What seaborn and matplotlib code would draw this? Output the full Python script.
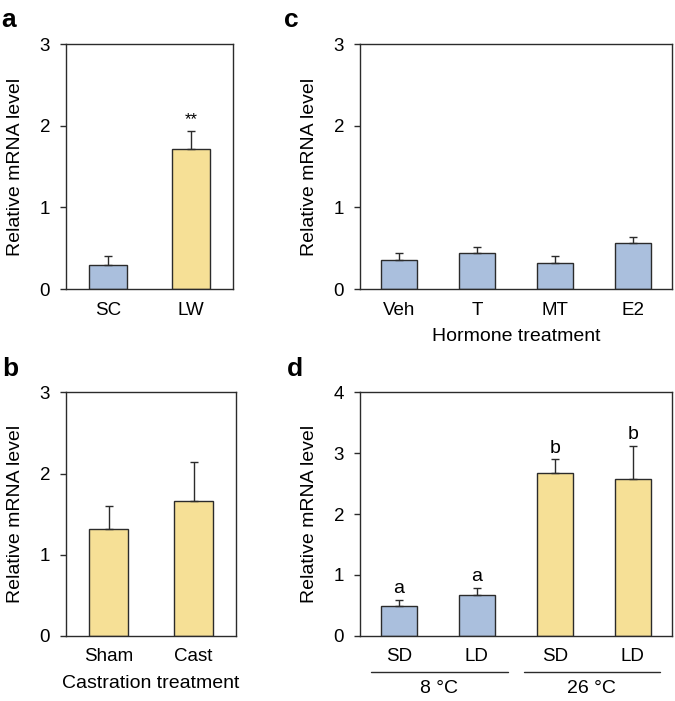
import pandas as pd
import matplotlib
matplotlib.use("Agg")
import matplotlib.pyplot as plt
import matplotlib.transforms as mtransforms
import seaborn as sns

# panel a
a_groups = ["SC", "LW"]
a_means = [0.30, 1.72]
a_err = [0.10, 0.22]

# panel b
b_groups = ["Sham", "Cast"]
b_means = [1.32, 1.66]
b_err = [0.28, 0.48]

# panel c
c_groups = ["Veh", "T", "MT", "E2"]
c_means = [0.35, 0.44, 0.32, 0.56]
c_err = [0.09, 0.07, 0.09, 0.08]

# panel d
d_groups = ["SD 8", "LD 8", "SD 26", "LD 26"]
d_ticklabels = ["SD", "LD", "SD", "LD"]
d_means = [0.49, 0.67, 2.67, 2.58]
d_err = [0.10, 0.12, 0.23, 0.54]
d_letters = ["a", "a", "b", "b"]
d_temps = ["8 °C", "26 °C"]

BLUE = "#aabfdd"
YELLOW = "#f6e096"
EDGE = "#2b2b2b"

sns.set_theme(style="ticks")
plt.rcParams["font.family"] = ["Liberation Sans", "DejaVu Sans"]
plt.rcParams["text.color"] = "black"
plt.rcParams["axes.labelcolor"] = "black"
plt.rcParams["xtick.color"] = "black"
plt.rcParams["ytick.color"] = "black"
plt.rcParams["axes.linewidth"] = 1.0
plt.rcParams["axes.edgecolor"] = EDGE

LABEL_FS = 14
TICK_FS = 13.5


def bar_panel(ax, groups, means, errs, colors, ymax, width):
    df = pd.DataFrame({"group": groups, "value": means})
    sns.barplot(data=df, x="group", y="value", hue="group", palette=colors,
                order=groups, legend=False, width=width, ax=ax, saturation=1,
                edgecolor=EDGE, linewidth=1.0)
    x = list(range(len(groups)))
    ax.errorbar(x, means, yerr=[[0] * len(errs), errs], fmt="none",
                ecolor=EDGE, elinewidth=1.0, capsize=3, capthick=1.0, zorder=1)
    ax.set_ylim(0, ymax)
    ax.set_yticks(range(0, ymax + 1))
    ax.set_xlim(-0.5, len(groups) - 0.5)
    ax.set_xlabel("")
    ax.set_ylabel("Relative mRNA level", fontsize=LABEL_FS, labelpad=11)
    ax.tick_params(axis="y", labelsize=TICK_FS, length=4.5, width=1.0,
                   color=EDGE, pad=7)
    ax.tick_params(axis="x", labelsize=TICK_FS, length=0, pad=9)
    for s in ax.spines.values():
        s.set_visible(True)
        s.set_color(EDGE)
        s.set_linewidth(1.0)


fig = plt.figure(figsize=(6.75, 7.01), dpi=100)
ax_a = fig.add_axes([0.0978, 0.5877, 0.247, 0.349])
ax_c = fig.add_axes([0.5333, 0.5877, 0.4620, 0.349])
ax_b = fig.add_axes([0.0978, 0.0932, 0.252, 0.347])
ax_d = fig.add_axes([0.5333, 0.0932, 0.4620, 0.347])

bar_panel(ax_a, a_groups, a_means, a_err, [BLUE, YELLOW], 3, 0.46)
ax_a.annotate("**", (1, a_means[1] + a_err[1]), xytext=(0, 3),
              textcoords="offset points", ha="center", va="bottom", fontsize=12)

bar_panel(ax_b, b_groups, b_means, b_err, [YELLOW, YELLOW], 3, 0.46)
ax_b.set_xlabel("Castration treatment", fontsize=LABEL_FS, labelpad=7)

bar_panel(ax_c, c_groups, c_means, c_err, [BLUE] * 4, 3, 0.46)
ax_c.set_xlabel("Hormone treatment", fontsize=LABEL_FS, labelpad=7)

bar_panel(ax_d, d_groups, d_means, d_err, [BLUE, BLUE, YELLOW, YELLOW], 4, 0.46)
ax_d.set_xticks(range(4))
ax_d.set_xticklabels(d_ticklabels)
for i, lab in enumerate(d_letters):
    ax_d.annotate(lab, (i, d_means[i] + d_err[i]), xytext=(0, 2),
                  textcoords="offset points", ha="center", va="bottom",
                  fontsize=LABEL_FS)

trans = mtransforms.blended_transform_factory(ax_d.transData, ax_d.transAxes)
for (x0, x1), lab in zip([(-0.36, 1.40), (1.60, 3.35)], d_temps):
    ax_d.plot([x0, x1], [-0.149, -0.149], color=EDGE, lw=1.0,
              transform=trans, clip_on=False)
    ax_d.text((x0 + x1) / 2, -0.218, lab, transform=trans, ha="center",
              va="center", fontsize=LABEL_FS)

for letter, (x, y) in zip("acbd", [(0.002, 0.9615), (0.421, 0.9615),
                                  (0.004, 0.4636), (0.425, 0.4636)]):
    fig.text(x, y, letter, fontsize=19, fontweight="bold",
             va="baseline", ha="left")

fig.savefig("out.png", dpi=100)
